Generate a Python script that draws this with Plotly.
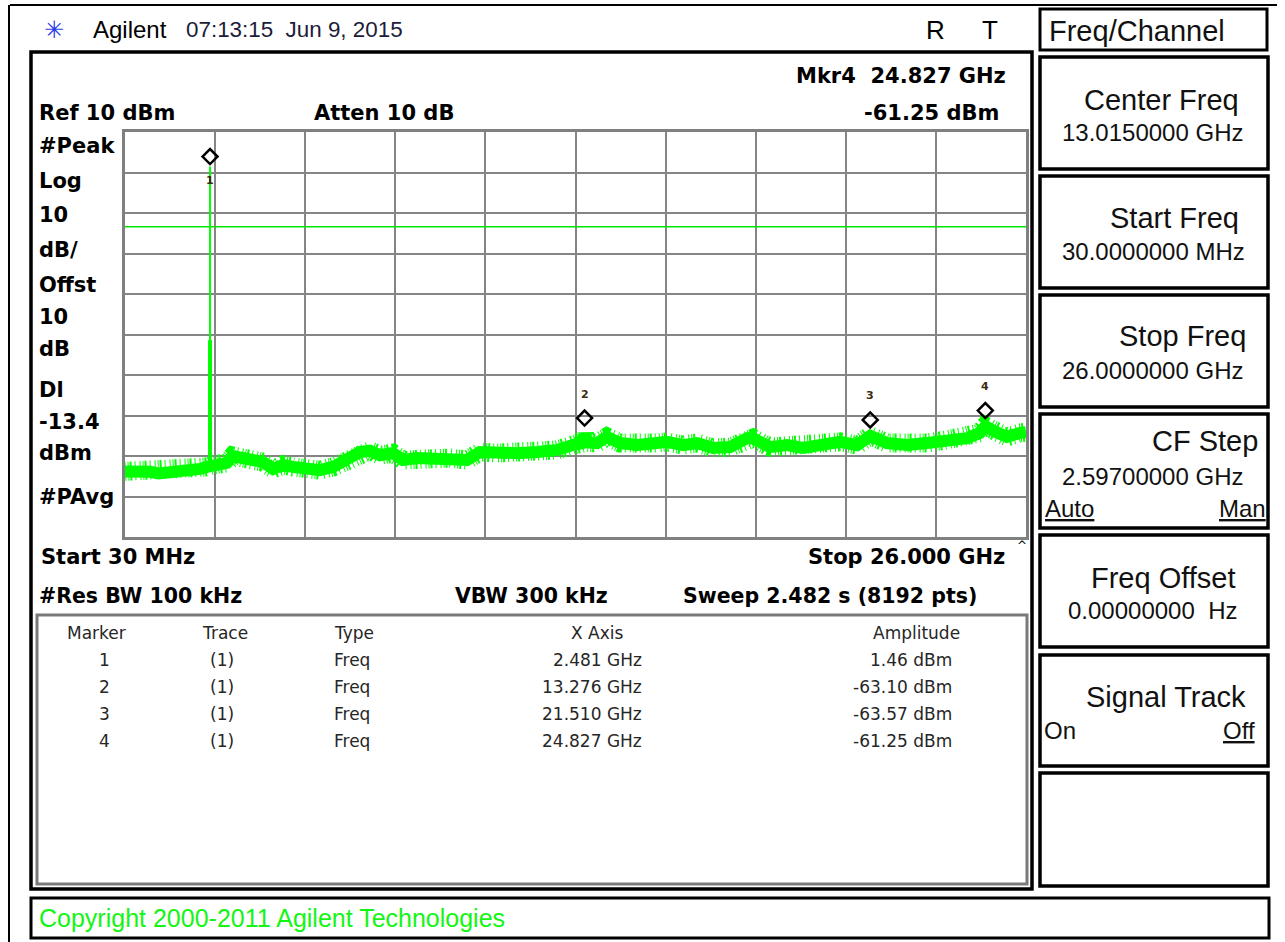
import plotly.graph_objects as go

W, H = 1285, 942

start_ghz, stop_ghz = 0.03, 26.0
ref_dbm, db_per_div, n_div = 10, 10, 10
display_line_dbm = -13.4

# noise-floor centre of trace 1 (GHz, dBm)
trace_ghz = [0.03, 0.45, 0.75, 1.00, 1.24, 1.70, 2.19, 2.39, 2.57, 2.97, 3.14, 3.43,
             3.83, 4.01, 4.30, 4.58, 4.87, 5.28, 5.65, 6.03, 6.43, 6.80, 7.09, 7.38,
             7.75, 8.04, 8.45, 8.82, 9.40, 9.89, 10.26, 10.75, 11.33, 11.91, 12.48,
             12.94, 13.23, 13.276, 13.33, 13.63, 13.92, 14.30, 14.79, 15.36, 15.65,
             16.11, 16.52, 16.98, 17.47, 17.96, 18.13, 18.62, 19.11, 19.57, 20.06,
             20.64, 21.13, 21.51, 21.99, 22.57, 23.15, 23.72, 24.30, 24.67, 24.83,
             25.02, 25.45, 25.83, 26.00]
trace_dbm = [-73.8, -73.6, -73.9, -74.3, -74.2, -73.9, -73.2, -72.7, -72.2, -71.7, -70.0, -70.5,
             -70.5, -71.5, -73.2, -72.2, -72.7, -73.5, -73.5, -72.7, -71.0, -69.0, -68.7, -69.8,
             -69.3, -71.0, -70.5, -70.7, -70.5, -71.0, -69.0, -69.3, -69.3, -69.0, -68.5,
             -67.3, -66.8, -64.6, -66.6, -66.8, -65.3, -66.8, -67.3, -66.8, -66.5,
             -67.3, -66.8, -68.0, -67.8, -65.6, -65.6, -67.8, -67.3, -68.0, -67.3,
             -66.5, -67.3, -65.0, -66.8, -67.3, -66.8, -66.0, -65.6, -64.3, -62.6,
             -63.6, -65.3, -64.3, -64.1]

# carrier at marker 1: skirt height and noise at its foot
carrier_skirt_dbm = -41.4
carrier_base_dbm = -72.5

marker_ids = ["1", "2", "3", "4"]
marker_ghz = [2.481, 13.276, 21.510, 24.827]
marker_dbm = [1.46, -63.10, -63.57, -61.25]
active_marker = 3  # index of Mkr4

left_labels = ["#Peak", "Log", "10", "dB/", "Offst", "10", "dB", "Dl", "-13.4", "dBm", "#PAvg"]
left_label_y = [146, 181, 215, 250, 285, 317, 349, 390, 422, 453, 497]

softkey_titles = ["Center Freq", "Start Freq", "Stop Freq", "CF Step", "Freq Offset", "Signal Track", ""]
softkey_values = ["13.0150000 GHz", "30.0000000 MHz", "26.0000000 GHz", "2.59700000 GHz",
                  "0.00000000  Hz", "", ""]

# ---------------- helpers ----------------
def px(x):
    return x / W


def py(y):
    return 1 - y / H


annotations = []


def txt(text, x, y, size, anchor="left", family="Liberation Sans", color="#000000", bold=False):
    annotations.append(dict(
        text=text, x=px(x), y=py(y), xref="paper", yref="paper", showarrow=False,
        xanchor=anchor, yanchor="middle", borderpad=0,
        font=dict(family=family, size=size, color=color, weight="bold" if bold else "normal")))


shapes = []


def rect(x0, y0, x1, y1, color="#000000", width=3):
    shapes.append(dict(type="rect", xref="paper", yref="paper", x0=px(x0), x1=px(x1),
                       y0=py(y0), y1=py(y1), line=dict(color=color, width=width),
                       fillcolor="rgba(0,0,0,0)", layer="below"))


def line(x0, y0, x1, y1, color="#000000", width=2):
    shapes.append(dict(type="line", xref="paper", yref="paper", x0=px(x0), x1=px(x1),
                       y0=py(y0), y1=py(y1), line=dict(color=color, width=width)))


# ---------------- figure ----------------
fig = go.Figure()

GREEN = "#00ff00"
# jagged fringe (style only) + solid core of the noise band
fig.add_trace(go.Scatter(x=trace_ghz, y=trace_dbm, mode="lines",
                         line=dict(color=GREEN, width=19, dash="1px,2px,1px,1px,2px,3px,1px,4px"),
                         hoverinfo="skip"))
fig.add_trace(go.Scatter(x=trace_ghz, y=trace_dbm, mode="lines",
                         line=dict(color=GREEN, width=12), hoverinfo="skip"))
fig.add_trace(go.Scatter(x=[marker_ghz[0], marker_ghz[0]], y=[carrier_base_dbm, carrier_skirt_dbm],
                         mode="lines", line=dict(color=GREEN, width=4), hoverinfo="skip"))
fig.add_trace(go.Scatter(x=[marker_ghz[0], marker_ghz[0]], y=[carrier_base_dbm, marker_dbm[0]],
                         mode="lines", line=dict(color=GREEN, width=2), hoverinfo="skip"))

# display line
shapes.append(dict(type="line", xref="x", yref="y", x0=start_ghz, x1=stop_ghz,
                   y0=display_line_dbm, y1=display_line_dbm,
                   line=dict(color="#00e600", width=1.6), layer="above"))

# marker diamonds (pixel sized, anchored to the marker point)
for mid, f, a in zip(marker_ids, marker_ghz, marker_dbm):
    shapes.append(dict(type="path", xref="x", yref="y", xsizemode="pixel", ysizemode="pixel",
                       xanchor=f, yanchor=a, path="M -7.5 10 L 0 17.5 L 7.5 10 L 0 2.5 Z",
                       line=dict(color="#000000", width=2.5), fillcolor="rgba(0,0,0,0)",
                       layer="above"))
    below = a > ref_dbm - 2 * db_per_div
    annotations.append(dict(text=mid, x=f, y=a, xref="x", yref="y", showarrow=False,
                            yshift=-14 if below else 34, xanchor="center", yanchor="middle",
                            font=dict(family="DejaVu Sans", size=11, color="#3a2a10",
                                      weight="bold")))

# frames
line(10, 5, 1277, 5, width=2)
line(9, 5, 9, 942, width=2)
rect(31, 52, 1032, 889, width=3.5)
rect(37, 615, 1027, 884, color="#7a7a7a", width=3)
rect(31, 898, 1269, 938, width=3)
rect(1040, 9, 1267, 50, width=3)
softkey_boxes = [(57, 169), (176, 288), (295, 407), (414, 528), (535, 647), (655, 766), (773, 886)]
for y0, y1 in softkey_boxes:
    rect(1040, y0, 1268, y1, width=3.5)

# header
txt("✳", 54, 30, 24, anchor="center", family="DejaVu Sans", color="#2a3be8")
txt("Agilent", 92, 30, 24)
txt("07:13:15\u00a0\u00a0Jun 9, 2015", 185, 30, 22.4, color="#1c1c3a")
txt("R", 935, 30, 26, anchor="center")
txt("T", 990, 30, 26, anchor="center")

# bold annotation labels
B = dict(family="DejaVu Sans", bold=True)
txt(f"Mkr{marker_ids[active_marker]}\u00a0\u00a0{marker_ghz[active_marker]:.3f} GHz", 1007, 76, 21, anchor="right", **B)
txt(f"{marker_dbm[active_marker]:.2f} dBm", 1000, 113, 21, anchor="right", **B)
txt(f"Ref {ref_dbm} dBm", 38, 113, 21, **B)
txt("Atten 10 dB", 313, 113, 21, **B)
for lab, yy in zip(left_labels, left_label_y):
    txt(lab, 38, yy, 21, **B)
txt("Start 30 MHz", 40, 557, 21, **B)
txt(f"Stop {stop_ghz:.3f} GHz", 1006, 557, 21, anchor="right", **B)
txt("#Res BW 100 kHz", 38, 596, 20.5, **B)
txt("VBW 300 kHz", 531, 596, 20.5, anchor="center", **B)
txt("Sweep 2.482 s (8192 pts)", 830, 596, 20.5, anchor="center", **B)
txt("^", 1022, 546, 12, anchor="center", family="DejaVu Sans")

# marker table
TF = dict(family="DejaVu Sans", color="#262626")
txt("Marker", 96, 633, 17, anchor="center", **TF)
txt("Trace", 225, 633, 17, anchor="center", **TF)
txt("Type", 333, 633, 17, **TF)
txt("X Axis", 597, 633, 17, anchor="center", **TF)
txt("Amplitude", 916, 633, 17, anchor="center", **TF)
row_y = [660, 687, 714, 741]
for mid, f, a, yy in zip(marker_ids, marker_ghz, marker_dbm, row_y):
    txt(mid, 104, yy, 17, anchor="center", **TF)
    txt("(1)", 222, yy, 17, anchor="center", **TF)
    txt("Freq", 333, yy, 17, **TF)
    txt(f"{f:.3f} GHz", 643, yy, 17, anchor="right", **TF)
    txt(f"{a:.2f} dBm", 953, yy, 17, anchor="right", **TF)

# right softkey panel
SK = dict(family="Liberation Sans", color="#111111")
txt("Freq/Channel", 1048, 31, 29, **SK)
title_pos = [(1240, 100), (1240, 218), (1247, 336), (1259, 441), (1237, 578), (1247, 697)]
value_pos = [(1244, 133), (1246, 251), (1244, 370), (1244, 476), (1238, 610)]
for t, (xx, yy) in zip(softkey_titles, title_pos):
    txt(t, xx, yy, 29, anchor="right", **SK)
for v, (xx, yy) in zip(softkey_values, value_pos):
    txt(v.replace("  ", "\u00a0\u00a0"), xx, yy, 24, anchor="right", **SK)
txt("<u>Auto</u>", 1044, 508, 24, **SK)
txt("<u>Man</u>", 1267, 508, 24, anchor="right", **SK)
txt("On", 1043, 730, 24, **SK)
txt("<u>Off</u>", 1256, 730, 24, anchor="right", **SK)

# copyright bar
txt("Copyright 2000-2011 Agilent Technologies", 38, 918, 25, color="#14f514")

span = stop_ghz - start_ghz
fig.update_layout(
    width=W, height=H, margin=dict(l=0, r=0, t=0, b=0),
    paper_bgcolor="#ffffff", plot_bgcolor="#ffffff", showlegend=False,
    shapes=shapes, annotations=annotations,
    xaxis=dict(domain=[px(125), px(1026)], range=[start_ghz, stop_ghz],
               tick0=start_ghz, dtick=span / n_div, showticklabels=False, ticks="",
               showgrid=True, gridcolor="#858585", gridwidth=2, zeroline=False,
               showline=True, linecolor="#808080", linewidth=3, mirror=True, fixedrange=True),
    yaxis=dict(domain=[py(537), py(132)], range=[ref_dbm - n_div * db_per_div, ref_dbm],
               tick0=ref_dbm, dtick=db_per_div, showticklabels=False, ticks="",
               showgrid=True, gridcolor="#858585", gridwidth=2, zeroline=False,
               showline=True, linecolor="#808080", linewidth=3, mirror=True, fixedrange=True),
)

fig.write_html("out.html", config={"displayModeBar": False},
               post_script="document.body.style.margin='0';document.body.style.overflow='hidden';")
